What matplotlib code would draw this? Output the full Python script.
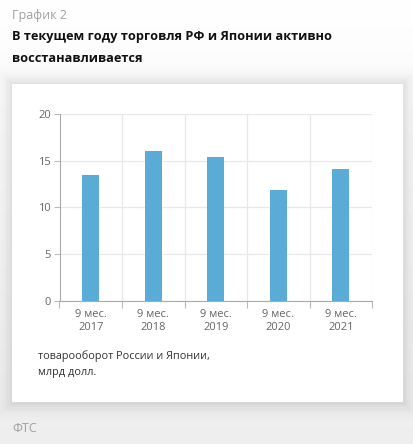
import matplotlib
matplotlib.use("Agg")
import matplotlib.pyplot as plt
import numpy as np
from matplotlib.patches import Rectangle

categories = ["9 мес.\n2017", "9 мес.\n2018", "9 мес.\n2019", "9 мес.\n2020", "9 мес.\n2021"]
values = [13.5, 16.0, 15.4, 11.9, 14.1]
yticks = [0, 5, 10, 15, 20]

plt.rcParams['font.family'] = ['Open Sans', 'DejaVu Sans']

W, H = 413, 444
fig = plt.figure(figsize=(W / 100, H / 100), dpi=100)

# background gradient
bg = fig.add_axes([0, 0, 1, 1], zorder=-10)
grad = np.linspace(0, 1, 256).reshape(-1, 1)
top = np.array([1.0, 1.0, 1.0])
bot = np.array([0.935, 0.935, 0.935])
img = top + (bot - top) * grad[..., None] * np.ones((1, 1, 3))
bg.imshow(img.reshape(256, 1, 3), aspect='auto', extent=[0, 1, 0, 1], origin='upper')
bg.set_xlim(0, 1); bg.set_ylim(0, 1); bg.axis('off')

# card shadow + card
cx0, cx1 = 12 / W, 403 / W
cy0, cy1 = 1 - 402 / H, 1 - 84 / H
for i, a in enumerate([0.022, 0.018, 0.015, 0.012, 0.009, 0.007, 0.005, 0.003]):
    d = (i + 1) * 2.5
    bg.add_patch(Rectangle((cx0 - d / W, cy0 - d / H), cx1 - cx0 + 2 * d / W, cy1 - cy0 + 2 * d / H,
                           facecolor='black', alpha=a, edgecolor='none', zorder=1))
bg.add_patch(Rectangle((cx0, cy0), cx1 - cx0, cy1 - cy0, facecolor='white', edgecolor='none', zorder=2))

# texts
fig.text(12 / W, 1 - 15 / H, "График 2", fontsize=9, color='#a0a0a0', va='center', ha='left')
fig.text(12 / W, 1 - 36 / H, "В текущем году торговля РФ и Японии активно", fontsize=9.2,
         fontweight='bold', color='#111111', va='center', ha='left')
fig.text(12 / W, 1 - 58 / H, "восстанавливается", fontsize=9.2,
         fontweight='bold', color='#111111', va='center', ha='left')
fig.text(38 / W, 1 - 356 / H, "товарооборот России и Японии,", fontsize=7.8, color='#333333', va='center', ha='left')
fig.text(38 / W, 1 - 372 / H, "млрд долл.", fontsize=7.8, color='#333333', va='center', ha='left')
fig.text(12 / W, 1 - 428 / H, "ФТС", fontsize=9, color='#a0a0a0', va='center', ha='left')

# chart
ax = fig.add_axes([59.5 / W, 1 - 300.7 / H, (372 - 59.5) / W, (300.7 - 114) / H])
ax.set_facecolor('none')
x = np.arange(len(categories))
ax.bar(x, values, width=0.27, color='#5aabd6', zorder=3)
ax.set_xlim(-0.5, len(categories) - 0.5)
ax.set_ylim(0, 20)
ax.set_yticks(yticks)
ax.set_xticks(x)
ax.set_xticklabels(categories, fontsize=8, color='#666666', linespacing=1.2)
ax.set_xticks(np.arange(-0.5, len(categories), 1), minor=True)
ax.tick_params(axis='x', which='major', length=0, pad=6)
ax.tick_params(axis='x', which='minor', length=5, color='#bbbbbb', width=0.8)
ax.tick_params(axis='y', length=4, color='#bbbbbb', width=0.8, labelsize=8, labelcolor='#666666', pad=2)
ax.grid(True, axis='y', color='#e8e8e8', linewidth=0.9, zorder=0)
ax.grid(True, axis='x', which='minor', color='#e8e8e8', linewidth=0.9, zorder=0)
for s in ['top', 'right']:
    ax.spines[s].set_visible(False)
ax.spines['left'].set_color('#aaaaaa')
ax.spines['bottom'].set_color('#aaaaaa')
ax.spines['left'].set_linewidth(0.8)
ax.spines['bottom'].set_linewidth(0.8)

fig.savefig('out.png', dpi=100)
